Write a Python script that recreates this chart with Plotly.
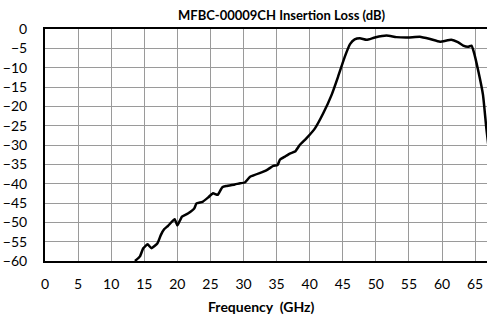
import plotly.graph_objects as go

freq_ghz = [13.6, 14.35, 14.85, 15.5, 16.1, 17.0, 17.5, 18.0, 18.6, 19.6, 20.0, 20.7, 21.6, 22.55,
            22.9, 23.8, 24.7, 25.4, 26.1, 26.8, 27.4, 28.7, 29.5, 30.2, 31.0, 33.0, 33.7, 34.5,
            35.15, 35.5, 36.25, 37.0, 37.8, 38.5, 39.5, 40.8, 42.05, 43.3, 44.3, 45.3,
            46.1, 46.8, 47.6, 48.6, 49.85, 51.6, 53.1, 54.9, 56.65, 58.2, 59.7, 61.4, 62.4,
            63.2, 63.95, 64.45, 64.8, 65.5, 66.2, 66.7, 67.2]
loss_db = [-60.0, -58.8, -56.7, -55.7, -56.7, -55.4, -53.3, -51.8, -50.9, -49.2, -50.8, -48.5, -47.7, -46.4,
           -45.1, -44.7, -43.5, -42.5, -42.9, -40.9, -40.6, -40.2, -39.9, -39.7, -38.2, -36.9, -36.3, -35.4,
           -35.2, -33.8, -33.0, -32.2, -31.7, -30.0, -28.3, -25.7, -21.8, -17.1, -12.3, -7.2,
           -3.9, -2.7, -2.4, -2.8, -2.2, -1.7, -2.1, -2.2, -2.0, -2.6, -3.3, -2.8, -3.4,
           -4.3, -4.6, -4.3, -5.9, -11.0, -17.1, -25.7, -33.0]

x_ticks = list(range(0, 70, 5))
y_ticks = list(range(-60, 1, 5))

title_text = "<b>MFBC-00009CH Insertion Loss (dB)</b>"
x_title = "<b>Frequency  (GHz)</b>"

FONT = "Lato"

fig = go.Figure()
fig.add_trace(go.Scatter(x=freq_ghz, y=loss_db, mode="lines",
                         line=dict(color="black", width=2.5, shape="spline", smoothing=0.4),
                         cliponaxis=True, showlegend=False, hoverinfo="skip"))

fig.update_layout(
    width=487, height=320,
    margin=dict(l=45, r=0, t=29, b=59),
    paper_bgcolor="white", plot_bgcolor="white",
    font=dict(family=FONT, size=14, color="black"),
    xaxis=dict(range=[0, 66.8], tickvals=x_ticks, showgrid=True, gridcolor="#9a9a9a", gridwidth=1,
               showline=True, linecolor="black", linewidth=2, mirror=True, zeroline=False,
               ticks="", ticklabelstandoff=9, fixedrange=True),
    yaxis=dict(range=[-60, 0], tickvals=y_ticks, showgrid=True, gridcolor="#9a9a9a", gridwidth=1,
               showline=True, linecolor="black", linewidth=2, zeroline=False,
               ticks="", ticklabelstandoff=13, fixedrange=True),
    annotations=[
        dict(text=title_text, xref="paper", yref="paper", x=0.536, y=1.06, xanchor="center",
             yanchor="middle", showarrow=False, font=dict(family=FONT, size=13, color="black")),
        dict(text=x_title, xref="paper", yref="paper", x=0.4876, y=-0.198, xanchor="center",
             yanchor="middle", showarrow=False, font=dict(family=FONT, size=14, color="black")),
    ],
)

fig.write_html("out.html")
